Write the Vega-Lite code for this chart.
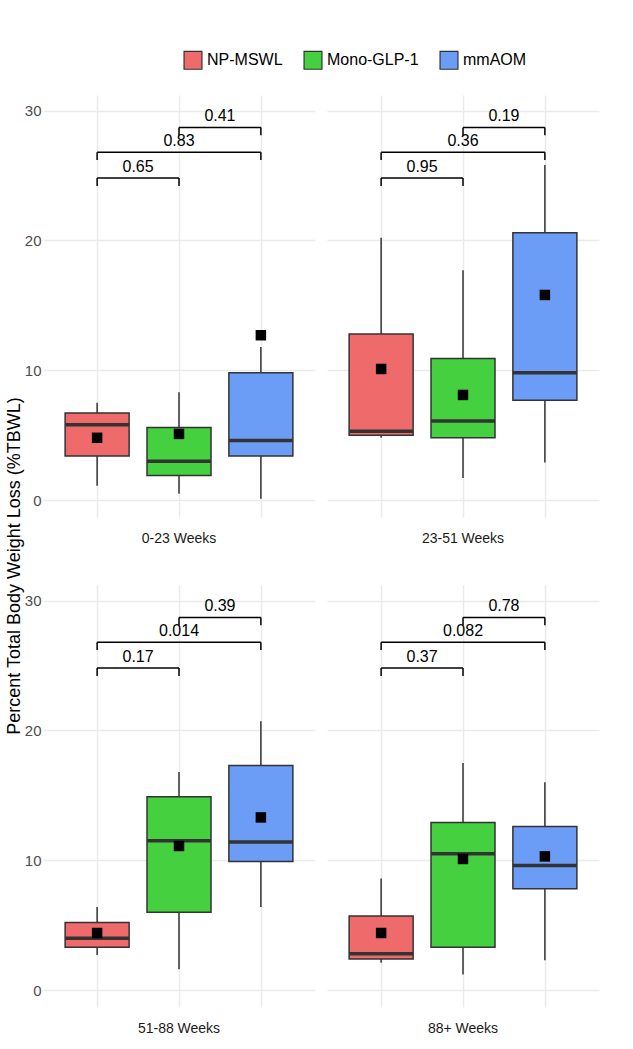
{
  "$schema": "https://vega.github.io/schema/vega-lite/v6.json",
  "config": {"background": "white", "view": {"stroke": null}, "font": "Liberation Sans"},
  "padding": {"top": 50, "left": 5, "right": 5, "bottom": 5},
  "data": {"values": [
    {"k": "box", "r": "a", "c": "a", "p": "0-23 Weeks", "g": "NP-MSWL", "gi": 1, "lo": 1.1, "q1": 3.4, "med": 5.8, "q3": 6.7, "hi": 7.5, "mean": 4.8},
    {"k": "box", "r": "a", "c": "a", "p": "0-23 Weeks", "g": "Mono-GLP-1", "gi": 2, "lo": 0.5, "q1": 1.9, "med": 3.0, "q3": 5.6, "hi": 8.3, "mean": 5.1},
    {"k": "box", "r": "a", "c": "a", "p": "0-23 Weeks", "g": "mmAOM", "gi": 3, "lo": 0.1, "q1": 3.4, "med": 4.6, "q3": 9.8, "hi": 11.8, "mean": 12.7},
    {"k": "box", "r": "a", "c": "b", "p": "23-51 Weeks", "g": "NP-MSWL", "gi": 1, "lo": 4.8, "q1": 5.0, "med": 5.3, "q3": 12.8, "hi": 20.2, "mean": 10.1},
    {"k": "box", "r": "a", "c": "b", "p": "23-51 Weeks", "g": "Mono-GLP-1", "gi": 2, "lo": 1.7, "q1": 4.8, "med": 6.1, "q3": 10.9, "hi": 17.7, "mean": 8.1},
    {"k": "box", "r": "a", "c": "b", "p": "23-51 Weeks", "g": "mmAOM", "gi": 3, "lo": 2.9, "q1": 7.7, "med": 9.8, "q3": 20.6, "hi": 25.8, "mean": 15.8},
    {"k": "box", "r": "b", "c": "a", "p": "51-88 Weeks", "g": "NP-MSWL", "gi": 1, "lo": 2.7, "q1": 3.3, "med": 4.0, "q3": 5.2, "hi": 6.4, "mean": 4.4},
    {"k": "box", "r": "b", "c": "a", "p": "51-88 Weeks", "g": "Mono-GLP-1", "gi": 2, "lo": 1.6, "q1": 6.0, "med": 11.5, "q3": 14.9, "hi": 16.8, "mean": 11.1},
    {"k": "box", "r": "b", "c": "a", "p": "51-88 Weeks", "g": "mmAOM", "gi": 3, "lo": 6.4, "q1": 9.9, "med": 11.4, "q3": 17.3, "hi": 20.7, "mean": 13.3},
    {"k": "box", "r": "b", "c": "b", "p": "88+ Weeks", "g": "NP-MSWL", "gi": 1, "lo": 2.1, "q1": 2.4, "med": 2.8, "q3": 5.7, "hi": 8.6, "mean": 4.4},
    {"k": "box", "r": "b", "c": "b", "p": "88+ Weeks", "g": "Mono-GLP-1", "gi": 2, "lo": 1.2, "q1": 3.3, "med": 10.5, "q3": 12.9, "hi": 17.5, "mean": 10.1},
    {"k": "box", "r": "b", "c": "b", "p": "88+ Weeks", "g": "mmAOM", "gi": 3, "lo": 2.3, "q1": 7.8, "med": 9.6, "q3": 12.6, "hi": 16.0, "mean": 10.3},
    {"k": "br", "r": "a", "c": "a", "x1": 1, "x2": 2, "xm": 1.5, "lvl": 24.8, "lvlLo": 24.2, "lab": "0.65"},
    {"k": "br", "r": "a", "c": "a", "x1": 1, "x2": 3, "xm": 2, "lvl": 26.8, "lvlLo": 26.2, "lab": "0.83"},
    {"k": "br", "r": "a", "c": "a", "x1": 2, "x2": 3, "xm": 2.5, "lvl": 28.7, "lvlLo": 28.1, "lab": "0.41"},
    {"k": "br", "r": "a", "c": "b", "x1": 1, "x2": 2, "xm": 1.5, "lvl": 24.8, "lvlLo": 24.2, "lab": "0.95"},
    {"k": "br", "r": "a", "c": "b", "x1": 1, "x2": 3, "xm": 2, "lvl": 26.8, "lvlLo": 26.2, "lab": "0.36"},
    {"k": "br", "r": "a", "c": "b", "x1": 2, "x2": 3, "xm": 2.5, "lvl": 28.7, "lvlLo": 28.1, "lab": "0.19"},
    {"k": "br", "r": "b", "c": "a", "x1": 1, "x2": 2, "xm": 1.5, "lvl": 24.8, "lvlLo": 24.2, "lab": "0.17"},
    {"k": "br", "r": "b", "c": "a", "x1": 1, "x2": 3, "xm": 2, "lvl": 26.8, "lvlLo": 26.2, "lab": "0.014"},
    {"k": "br", "r": "b", "c": "a", "x1": 2, "x2": 3, "xm": 2.5, "lvl": 28.7, "lvlLo": 28.1, "lab": "0.39"},
    {"k": "br", "r": "b", "c": "b", "x1": 1, "x2": 2, "xm": 1.5, "lvl": 24.8, "lvlLo": 24.2, "lab": "0.37"},
    {"k": "br", "r": "b", "c": "b", "x1": 1, "x2": 3, "xm": 2, "lvl": 26.8, "lvlLo": 26.2, "lab": "0.082"},
    {"k": "br", "r": "b", "c": "b", "x1": 2, "x2": 3, "xm": 2.5, "lvl": 28.7, "lvlLo": 28.1, "lab": "0.78"}
  ]},
  "facet": {
    "row": {"field": "r", "type": "nominal", "header": {"labels": false, "title": "Percent Total Body Weight Loss (%TBWL)", "titleFontSize": 18, "titleFontWeight": "normal", "titleColor": "#000", "titlePadding": -10}},
    "column": {"field": "c", "type": "nominal", "header": {"labels": false, "title": "Quartile Length of Preoperative Weight Loss (Weeks)", "titleOrient": "bottom", "titleFontSize": 18, "titleFontWeight": "normal", "titleColor": "#000", "titlePadding": 14}}
  },
  "spacing": {"row": 38, "column": 12},
  "spec": {
    "width": 272,
    "height": 422,
    "encoding": {
      "x": {"type": "quantitative", "scale": {"domain": [0.4, 3.6], "nice": false}, "axis": {"values": [1, 2, 3], "labels": false, "ticks": false, "domain": false, "title": null, "gridColor": "#EBEBEB", "gridWidth": 1.5}},
      "y": {"type": "quantitative", "scale": {"domain": [-1.3, 31.2], "nice": false, "zero": false}, "axis": {"values": [0, 10, 20, 30], "domain": false, "ticks": false, "labelFontSize": 15, "labelColor": "#4D4D4D", "title": null, "gridColor": "#EBEBEB", "gridWidth": 1.5}}
    },
    "layer": [
      {"transform": [{"filter": "datum.k == 'box'"}], "mark": {"type": "rule", "color": "#333", "strokeWidth": 1.5},
       "encoding": {"x": {"field": "gi"}, "y": {"field": "lo"}, "y2": {"field": "hi"}}},
      {"transform": [{"filter": "datum.k == 'box'"}], "mark": {"type": "bar", "size": 64, "stroke": "#333", "strokeWidth": 1.5},
       "encoding": {"x": {"field": "gi"}, "y": {"field": "q1"}, "y2": {"field": "q3"},
         "fill": {"field": "g", "type": "nominal", "scale": {"domain": ["NP-MSWL", "Mono-GLP-1", "mmAOM"], "range": ["#EF6B6B", "#45D040", "#6B9DF7"]},
           "legend": {"orient": "none", "legendX": 140, "legendY": -45, "direction": "horizontal", "title": null, "labelFontSize": 16, "labelColor": "#000", "symbolType": "square", "symbolSize": 320, "symbolStrokeColor": "#333", "symbolStrokeWidth": 1.2, "symbolOpacity": 1, "columnPadding": 18}}}},
      {"transform": [{"filter": "datum.k == 'box'"}], "mark": {"type": "tick", "orient": "horizontal", "size": 64, "thickness": 3.5, "color": "#333", "opacity": 1},
       "encoding": {"x": {"field": "gi"}, "y": {"field": "med"}}},
      {"transform": [{"filter": "datum.k == 'box'"}], "mark": {"type": "square", "size": 110, "color": "#000", "opacity": 1},
       "encoding": {"x": {"field": "gi"}, "y": {"field": "mean"}}},
      {"transform": [{"filter": "datum.k == 'box' && datum.gi == 2"}], "mark": {"type": "text", "fontSize": 14, "color": "#1A1A1A"},
       "encoding": {"x": {"field": "gi"}, "y": {"datum": -3.0}, "text": {"field": "p"}}},
      {"transform": [{"filter": "datum.k == 'br'"}], "mark": {"type": "rule", "color": "#000", "strokeWidth": 1.5},
       "encoding": {"x": {"field": "x1"}, "x2": {"field": "x2"}, "y": {"field": "lvl"}}},
      {"transform": [{"filter": "datum.k == 'br'"}, {"fold": ["x1", "x2"], "as": ["end", "xe"]}], "mark": {"type": "rule", "color": "#000", "strokeWidth": 1.5},
       "encoding": {"x": {"field": "xe", "type": "quantitative"}, "y": {"field": "lvl"}, "y2": {"field": "lvlLo"}}},
      {"transform": [{"filter": "datum.k == 'br'"}], "mark": {"type": "text", "fontSize": 16, "dy": -11, "color": "#000"},
       "encoding": {"x": {"field": "xm"}, "y": {"field": "lvl"}, "text": {"field": "lab"}}}
    ]
  }
}
